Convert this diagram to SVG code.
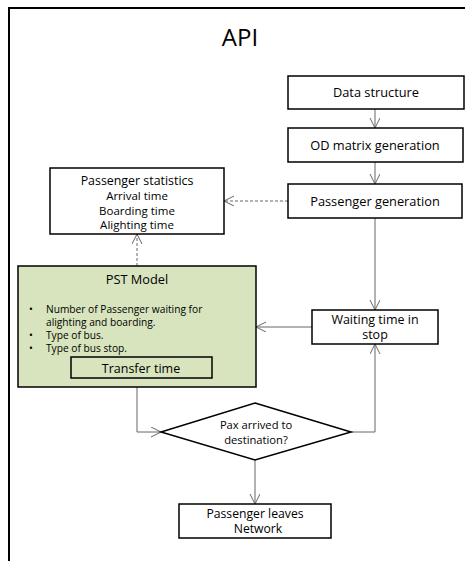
<svg xmlns="http://www.w3.org/2000/svg" width="465" height="561" viewBox="0 0 465 561">
<defs>
<marker id="ah" markerWidth="12" markerHeight="12" refX="10" refY="5" orient="auto" markerUnits="userSpaceOnUse">
<path d="M0,0 L10,5 L0,10" fill="none" stroke="#666" stroke-width="1"/>
</marker>
</defs>
<style>
.box{fill:#fff;stroke:#000;stroke-width:1.5}
.t{font-family:"Open Sans","Noto Sans",sans-serif;fill:#000;text-anchor:middle;font-size:12.8px}
.s{font-family:"Open Sans","Noto Sans",sans-serif;fill:#000;font-size:10.2px}
.c{fill:none;stroke:#666;stroke-width:1}
.d{fill:none;stroke:#666;stroke-width:1;stroke-dasharray:3,2}
</style>
<rect width="465" height="561" fill="#fff"/>
<path d="M9,561 V8 H465" fill="none" stroke="#000" stroke-width="2"/>
<text class="t" x="240" y="46" style="font-size:24px">API</text>

<g id="connectors">
<line class="c" x1="375" y1="109" x2="375" y2="128" marker-end="url(#ah)"/>
<line class="c" x1="375" y1="162" x2="375" y2="184" marker-end="url(#ah)"/>
<line class="d" x1="288" y1="201" x2="224" y2="201" marker-end="url(#ah)"/>
<line class="d" x1="137" y1="266" x2="137" y2="234" marker-end="url(#ah)"/>
<line class="c" x1="375" y1="218" x2="375" y2="310" marker-end="url(#ah)"/>
<line class="c" x1="312" y1="327" x2="256" y2="327" marker-end="url(#ah)"/>
<polyline class="c" points="137,387 137,432 161,432" marker-end="url(#ah)"/>
<polyline class="c" points="351,432 375,432 375,344" marker-end="url(#ah)" stroke="#999" stroke-width="1.5"/>
<line class="c" x1="255" y1="460" x2="255" y2="504" marker-end="url(#ah)"/>
</g>

<g id="data-structure">
<rect class="box" x="288" y="76" width="176" height="33"/>
<text class="t" x="376" y="97">Data structure</text>
</g>
<g id="od-matrix">
<rect class="box" x="288" y="128" width="175" height="34"/>
<text class="t" x="375" y="150">OD matrix generation</text>
</g>
<g id="passenger-generation">
<rect class="box" x="288" y="184" width="174" height="34"/>
<text class="t" x="375" y="206">Passenger generation</text>
</g>
<g id="passenger-statistics">
<rect class="box" x="50" y="168" width="174" height="66"/>
<text class="t" x="137" y="185" style="font-size:12.4px">Passenger statistics<tspan x="137" y="200" style="font-size:11.5px">Arrival time</tspan><tspan x="137" y="214.5" style="font-size:11.5px">Boarding time</tspan><tspan x="137" y="229" style="font-size:11.5px">Alighting time</tspan></text>
</g>
<g id="pst-model">
<rect x="18" y="266" width="238" height="121" fill="#d7e4bd" stroke="#000" stroke-width="1.5"/>
<text class="t" x="137" y="284">PST Model</text>
<text class="s" x="29" y="313">•<tspan x="29" y="339">•</tspan><tspan x="29" y="352">•</tspan></text>
<text class="s" x="46" y="313">Number of Passenger waiting for<tspan x="46" y="326">alighting and boarding.</tspan><tspan x="46" y="339">Type of bus.</tspan><tspan x="46" y="352">Type of bus stop.</tspan></text>
<rect x="71" y="357" width="141" height="21" fill="none" stroke="#000" stroke-width="1.5"/>
<text class="t" x="141" y="372.5" style="font-size:12.5px">Transfer time</text>
</g>
<g id="waiting-time">
<rect class="box" x="312" y="310" width="126" height="34"/>
<text class="t" x="375" y="323.5" style="font-size:12.5px">Waiting time in<tspan x="375" y="339">stop</tspan></text>
</g>
<g id="decision">
<polygon points="255,403 351,432 255,460 161,432" fill="#fff" stroke="#000" stroke-width="1.5"/>
<text class="t" x="256" y="429" style="font-size:11.2px">Pax arrived to<tspan x="256" y="444">destination?</tspan></text>
</g>
<g id="passenger-leaves">
<rect class="box" x="179" y="504" width="152" height="34"/>
<text class="t" x="255" y="517.5" style="font-size:12.2px">Passenger leaves<tspan x="258" y="533">Network</tspan></text>
</g>
</svg>
